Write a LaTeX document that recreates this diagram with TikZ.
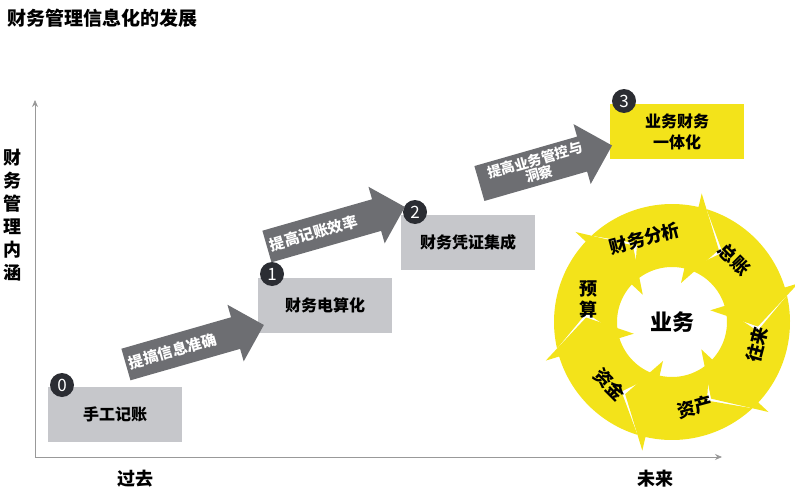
\documentclass[tikz,border=0pt]{standalone}
\usepackage{fontspec}
\setmainfont{Noto Sans CJK SC}
\usetikzlibrary{shapes.arrows,arrows.meta,calc}
\definecolor{boxgray}{HTML}{C6C7CB}
\definecolor{arrgray}{HTML}{6D6E72}
\definecolor{darkc}{HTML}{2B2D33}
\definecolor{yel}{HTML}{F3E31A}
\begin{document}
\begin{tikzpicture}[x=1pt,y=-1pt,
  stage/.style={fill=boxgray,minimum width=134pt,minimum height=55pt,font=\bfseries\fontsize{16}{18}\selectfont,inner sep=0pt},
  num/.style={circle,fill=darkc,text=white,minimum size=24pt,inner sep=0pt,font=\fontsize{17}{17}\selectfont},
  garrow/.style={single arrow,fill=arrgray,text=white,rotate=16,single arrow head extend=13pt,inner ysep=9pt,
     font=\bfseries\fontsize{15}{16}\selectfont,align=center},
  seglab/.style={font=\bfseries\fontsize{18}{20}\selectfont,align=center},
  axis/.style={draw=gray!80,line width=0.8pt,-{Stealth[length=7pt,width=6pt]}}]
\useasboundingbox (0,0) rectangle (795,495);
\node[anchor=west,font=\bfseries\fontsize{19}{20}\selectfont] (title) at (4,18) {财务管理信息化的发展};
\coordinate (o) at (35,457);
\coordinate (ytop) at (35,100);
\coordinate (xend) at (722,457);
\draw[axis] (o) -- (ytop);
\draw[axis] (o) -- (xend);
\node[font=\bfseries\fontsize{18}{23}\selectfont,align=center] (ylab) at (13,215) {财\\务\\管\\理\\内\\涵};
\node[font=\bfseries\fontsize{18}{20}\selectfont] (past) at (135,479) {过去};
\node[font=\bfseries\fontsize{18}{20}\selectfont] (fut) at (655,479) {未来};
% stages
\node[stage] (s0) at (115,414.5) {手工记账};
\node[stage] (s1) at (325,305.5) {财务电算化};
\node[stage] (s2) at (468,242.5) {财务凭证集成};
\node[stage,fill=yel,align=center,font=\bfseries\fontsize{16}{21}\selectfont] (s3) at (677,131.5) {业务财务\\一体化};
\node[num] (n0) at (62,385) {0};
\node[num] (n1) at (272,274) {1};
\node[num] (n2) at (415,212) {2};
\node[num] (n3) at (624,101) {3};
% arrows
\node[garrow,minimum height=136pt] (a0) at (187,347) {提搞信息准确\hspace{30pt}};
\node[garrow,minimum height=136pt] (a1) at (328,229) {提高记账效率\hspace{30pt}};
\node[garrow,minimum height=138pt,inner ysep=4pt,font=\bfseries\fontsize{14}{13}\selectfont] (a2) at (537,167) {提高业务管控与\\洞察\hspace{28pt}};
% cycle
\coordinate (c) at (672,322);
\foreach \m in {-105,-45,15,75,135,195}{
  \pgfmathsetmacro{\a}{\m-28}
  \pgfmathsetmacro{\b}{\m+28}
  \fill[yel] ($(c)+(\a:118)$) arc[start angle=\a,end angle=\b,radius=118]
    -- ($(c)+(\b:132)$) -- ($(c)+(\b+20:86)$) -- ($(c)+(\b:40)$) -- ($(c)+(\b:55)$)
    arc[start angle=\b,end angle=\a,radius=55]
    -- ($(c)+(\a+19:86)$) -- cycle;
}
\node[seglab,rotate=15] (l1) at ($(c)+(-108:88)$) {财务分析};
\node[seglab,rotate=-45] (l2) at ($(c)+(-45:88)$) {总账};
\node[seglab,rotate=75] (l3) at ($(c)+(15:88)$) {往来};
\node[seglab,rotate=15] (l4) at ($(c)+(75:88)$) {资产};
\node[seglab,rotate=-45] (l5) at ($(c)+(135:88)$) {资金};
\node[seglab,font=\bfseries\fontsize{18}{21}\selectfont] (l6) at ($(c)+(195:86)$) {预\\算};
\node[font=\bfseries\fontsize{22}{24}\selectfont] (biz) at (c) {业务};
\end{tikzpicture}
\end{document}
